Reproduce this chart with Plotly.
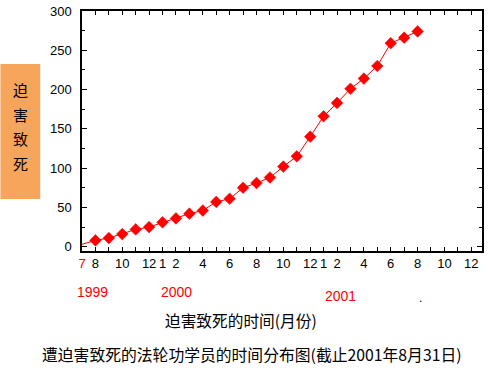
import plotly.graph_objects as go

# ---- data ----
month_labels = ["1999-07", "1999-08", "1999-09", "1999-10", "1999-11", "1999-12",
                "2000-01", "2000-02", "2000-03", "2000-04", "2000-05", "2000-06",
                "2000-07", "2000-08", "2000-09", "2000-10", "2000-11", "2000-12",
                "2001-01", "2001-02", "2001-03", "2001-04", "2001-05", "2001-06",
                "2001-07", "2001-08"]
deaths = [3, 8, 11, 16, 22, 25, 31, 36, 42, 46, 57, 61, 75, 81, 88,
          102, 115, 140, 166, 183, 201, 214, 230, 259, 266, 274]

tick_positions = [0, 1, 3, 5, 6, 7, 9, 11, 13, 15, 17, 18, 19, 21, 23, 25, 27, 29]
tick_texts = ['<span style="color:#ff0000">7</span>', "8", "10", "12", "1", "2", "4", "6",
              "8", "10", "12", "1", "2", "4", "6", "8", "10", "12"]

year_labels = ["1999", "2000", "2001"]
side_label_chars = ["迫", "害", "致", "死"]
x_title = "迫害致死的时间(月份)"
main_title = "遭迫害致死的法轮功学员的时间分布图(截止2001年8月31日)"

x_idx = list(range(len(deaths)))
marker_sizes = [0] + [9] * (len(deaths) - 1)

CJK = "Noto Sans CJK SC"
LAT = "Liberation Sans, Arial, sans-serif"

fig = go.Figure()
fig.add_trace(go.Scatter(
    x=x_idx, y=deaths, mode="lines+markers",
    line=dict(color="#ff0000", width=1),
    marker=dict(symbol="diamond", size=marker_sizes, color="#ff0000", opacity=1,
                line=dict(width=0.5, color="#ff0000")),
    text=month_labels, hoverinfo="text+y", showlegend=False,
))

W, H = 488, 372
L, R, T, B = 82, 4, 6, 121
PW, PH = W - L - R, H - T - B

def px_x(px):
    return (px - L) / PW

def px_y(py):
    return (H - B - py) / PH

annotations = []
# year labels
for txt, (xp, yp) in zip(year_labels, [(93, 293), (177, 293), (342, 297)]):
    annotations.append(dict(text=txt, x=px_x(xp), y=px_y(yp), xref="paper", yref="paper",
                            showarrow=False, xanchor="center", yanchor="middle",
                            font=dict(family=LAT, size=14, color="#ff0000")))
annotations.append(dict(text=".", x=px_x(422), y=px_y(299), xref="paper", yref="paper",
                        showarrow=False, xanchor="center", yanchor="middle",
                        font=dict(family=LAT, size=12, color="#000000")))
# x title
annotations.append(dict(text=x_title, x=px_x(242), y=px_y(322), xref="paper", yref="paper",
                        showarrow=False, xanchor="center", yanchor="middle",
                        font=dict(family=CJK, size=15.7, color="#000000")))
# main title at bottom
annotations.append(dict(text=main_title, x=px_x(253), y=px_y(357), xref="paper", yref="paper",
                        showarrow=False, xanchor="center", yanchor="middle",
                        font=dict(family=CJK, size=15.8, color="#000000")))
# vertical side label
for i, ch in enumerate(side_label_chars):
    annotations.append(dict(text=ch, x=px_x(20), y=px_y(86 + 25.3 * i), xref="paper", yref="paper",
                            showarrow=False, xanchor="center", yanchor="middle",
                            font=dict(family=CJK, size=15, color="#000000")))

fig.add_shape(type="rect", xref="paper", yref="paper",
              x0=px_x(0), x1=px_x(40), y0=px_y(198), y1=px_y(60),
              fillcolor="#f6a55a", line=dict(width=0), layer="below")

fig.update_layout(
    width=W, height=H,
    margin=dict(l=L, r=R, t=T, b=B),
    paper_bgcolor="white", plot_bgcolor="white",
    annotations=annotations,
    xaxis=dict(range=[0, 29.8], tickmode="array", tickvals=tick_positions, ticktext=tick_texts,
               ticks="inside", ticklen=4, tickwidth=1, tickcolor="black",
               minor=dict(dtick=1, tick0=0, ticks="inside", ticklen=4, tickcolor="black"),
               showline=True, linecolor="black", linewidth=1.5, mirror="ticks",
               showgrid=False, zeroline=False, ticklabeloverflow="allow",
               tickfont=dict(family=LAT, size=13, color="black")),
    yaxis=dict(range=[-5.5, 300], tickmode="linear", tick0=0, dtick=50,
               ticks="inside", ticklen=5, tickwidth=1, tickcolor="black",
               minor=dict(dtick=25, tick0=0, ticks="inside", ticklen=3, tickcolor="black"),
               showline=True, linecolor="black", linewidth=1.5, mirror="ticks",
               showgrid=False, zeroline=False, ticklabelstandoff=6, ticklabeloverflow="allow",
               tickfont=dict(family=LAT, size=13, color="black")),
)

fig.write_html("out.html", config={"displayModeBar": False},
               post_script="document.body.style.margin='0';document.body.style.overflow='hidden';")
